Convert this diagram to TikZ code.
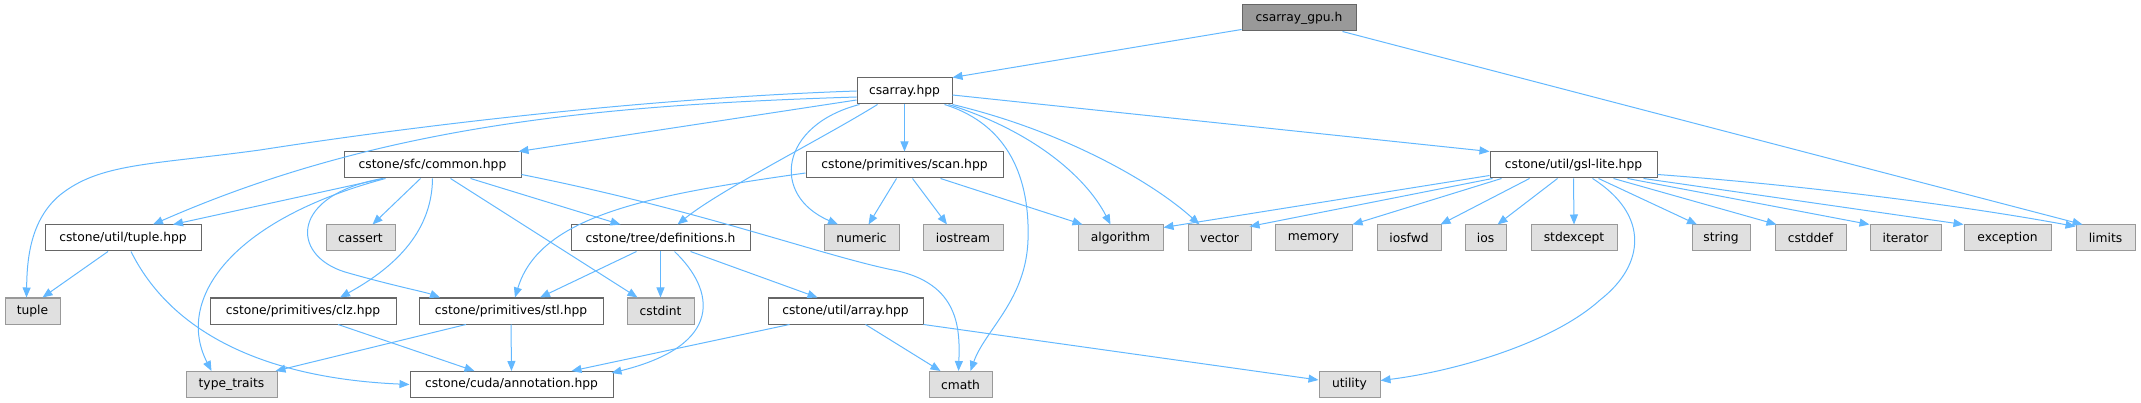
\documentclass[tikz,border=0pt]{standalone}
\usepackage{fontspec}
\setmainfont{DejaVu Sans}
\usetikzlibrary{arrows.meta}
\definecolor{edgeblue}{HTML}{63B8FF}
\definecolor{boxgray}{HTML}{E0E0E0}
\definecolor{bordergray}{HTML}{999999}
\definecolor{borderdark}{HTML}{666666}
\begin{document}
\begin{tikzpicture}[x=1pt,y=-1pt,
  box/.style={draw=borderdark, fill=white, line width=1pt, minimum height=26pt, inner sep=0pt, font=\fontsize{12.3}{14}\selectfont, text=black},
  sys/.style={box, draw=bordergray, fill=boxgray},
  cur/.style={box, fill=bordergray, draw=borderdark},
  edge/.style={draw=edgeblue, line width=1pt, -{Triangle[length=10pt,width=8pt]}},
]
\useasboundingbox (0,0) rectangle (2141,403);
% row 0
\node[cur, minimum width=114pt] (gpu) at (1299,18) {csarray\_gpu.h};
% row 1
\node[box, minimum width=95pt] (csarray) at (904.5,91) {csarray.hpp};
% row 2
\node[box, minimum width=177pt] (common) at (432.5,165) {cstone/sfc/common.hpp};
\node[box, minimum width=197pt] (scan) at (904.5,165) {cstone/primitives/scan.hpp};
\node[box, minimum width=167pt] (gsl) at (1573.5,165) {cstone/util/gsl-lite.hpp};
% row 3
\node[box, minimum width=156pt] (tuplehpp) at (123,238) {cstone/util/tuple.hpp};
\node[sys, minimum width=69pt] (cassert) at (360.5,238) {cassert};
\node[box, minimum width=179pt] (defs) at (660.5,238) {cstone/tree/definitions.h};
\node[sys, minimum width=75pt] (numeric) at (861.5,238) {numeric};
\node[sys, minimum width=80pt] (iostream) at (963,238) {iostream};
\node[sys, minimum width=85pt] (algorithm) at (1120.5,238) {algorithm};
\node[sys, minimum width=63pt] (vector) at (1219.5,238) {vector};
\node[sys, minimum width=77pt] (memory) at (1313.5,238) {memory};
\node[sys, minimum width=64pt] (iosfwd) at (1409,238) {iosfwd};
\node[sys, minimum width=41pt] (ios) at (1485.5,238) {ios};
\node[sys, minimum width=86pt] (stdexcept) at (1574,238) {stdexcept};
\node[sys, minimum width=58pt] (string) at (1721,238) {string};
\node[sys, minimum width=71pt] (cstddef) at (1810.5,238) {cstddef};
\node[sys, minimum width=71pt] (iterator) at (1905.5,238) {iterator};
\node[sys, minimum width=87pt] (exception) at (2007.5,238) {exception};
\node[sys, minimum width=59pt] (limits) at (2105.5,238) {limits};
% row 4
\node[sys, minimum width=55pt] (tuple) at (32.5,311) {tuple};
\node[box, minimum width=186pt] (clz) at (303,311) {cstone/primitives/clz.hpp};
\node[box, minimum width=184pt] (stl) at (511,311) {cstone/primitives/stl.hpp};
\node[sys, minimum width=67pt] (cstdint) at (660.5,311) {cstdint};
\node[box, minimum width=155pt] (array) at (845.5,311) {cstone/util/array.hpp};
% row 5
\node[sys, minimum width=91pt] (typetraits) at (231.5,384.5) {type\_traits};
\node[box, minimum width=203pt] (annot) at (511.5,384.5) {cstone/cuda/annotation.hpp};
\node[sys, minimum width=63pt] (cmath) at (960.5,384.5) {cmath};
\node[sys, minimum width=61pt] (utility) at (1349.5,384.5) {utility};

% gpu
\draw[edge] ([yshift=2pt]gpu.south west) -- (csarray.north east);
\draw[edge] ([xshift=-14pt]gpu.south east) -- ([xshift=7pt]limits.north west);
% csarray
\draw[edge] (csarray.west) .. controls (650,98) and (420,125) .. (260,150)
  .. controls (150,165) and (100,163) .. (60,195)
  .. controls (30,220) and (27,260) .. ([xshift=-6pt]tuple.north);
\draw[edge] ([yshift=-6pt]csarray.west) .. controls (600,105) and (380,125) .. ([xshift=30pt]tuplehpp.north);
\draw[edge] ([yshift=-9pt]csarray.west) -- ([xshift=-3pt]common.north east);
\draw[edge] ([xshift=-27pt]csarray.south) .. controls (820,140) and (720,190) .. ([xshift=17pt]defs.north);
\draw[edge] ([xshift=-45pt]csarray.south) .. controls (780,125) and (770,195) .. ([xshift=-23.5pt]numeric.north);
\draw[edge] (csarray.south) -- (scan.north);
\draw[edge] ([xshift=40pt]csarray.south) .. controls (1010,125) and (1030,180) .. (1028,240)
  .. controls (1026,300) and (985,330) .. ([xshift=10pt]cmath.north);
\draw[edge] ([xshift=44pt]csarray.south) .. controls (1030,130) and (1085,175) .. ([xshift=-10pt]algorithm.north);
\draw[edge] (csarray.south east) .. controls (1060,130) and (1150,180) .. ([xshift=-20pt]vector.north);
\draw[edge] ([yshift=-4pt]csarray.east) -- (gsl.north west);
% common
\draw[edge] ([xshift=-49pt]common.south) -- ([xshift=50pt]tuplehpp.north);
\draw[edge] ([xshift=-12pt]common.south) -- ([xshift=12pt]cassert.north);
\draw[edge] ([xshift=38pt]common.south) -- ([xshift=-40pt]defs.north);
\draw[edge] ([xshift=-50pt]common.south) .. controls (290,195) and (290,255) .. (345,272)
  .. controls (390,285) and (425,292) .. ([xshift=-71pt]stl.north);
\draw[edge] (common.south) .. controls (432,235) and (390,270) .. ([xshift=37pt]clz.north);
\draw[edge] ([xshift=18pt]common.south) -- ([xshift=-23pt]cstdint.north);
\draw[edge] ([xshift=-47pt]common.south) .. controls (230,220) and (175,300) .. ([xshift=-20pt]typetraits.north);
\draw[edge] ([yshift=4pt]common.south east) .. controls (700,210) and (820,255) .. (893,270)
  .. controls (960,283) and (960,330) .. ([xshift=-2pt]cmath.north);
% scan
\draw[edge] ([yshift=-8pt]scan.west) .. controls (650,195) and (540,215) .. ([xshift=4pt]stl.north);
\draw[edge] ([xshift=-8pt]scan.south) -- ([xshift=7pt]numeric.north);
\draw[edge] ([xshift=8pt]scan.south) -- ([xshift=-16pt]iostream.north);
\draw[edge] ([xshift=36pt]scan.south) -- ([xshift=-38pt]algorithm.north);
% definitions
\draw[edge] ([xshift=-24pt]defs.south) -- ([xshift=29pt]stl.north);
\draw[edge] (defs.south) -- (cstdint.north);
\draw[edge] ([xshift=14pt]defs.south) .. controls (715,290) and (725,345) .. ([xshift=-2pt,yshift=-2pt]annot.north east);
\draw[edge] ([xshift=30pt]defs.south) -- ([xshift=-28pt]array.north);
% tuple.hpp
\draw[edge] ([xshift=-15pt]tuplehpp.south) -- ([xshift=10pt]tuple.north);
\draw[edge] ([xshift=8pt]tuplehpp.south) .. controls (170,330) and (260,378) .. (annot.west);
% clz, stl
\draw[edge] ([xshift=35pt]clz.south) -- ([xshift=-37pt]annot.north);
\draw[edge] ([xshift=-45pt]stl.south) -- ([xshift=44pt]typetraits.north);
\draw[edge] (stl.south) -- (annot.north);
% array
\draw[edge] ([xshift=-56pt]array.south) -- ([xshift=60pt]annot.north);
\draw[edge] ([xshift=20pt]array.south) -- ([xshift=-20pt]cmath.north);
\draw[edge] (array.south east) -- ([yshift=4.5pt]utility.west);
% gsl-lite
\draw[edge] ([yshift=3pt]gsl.south west) -- ([yshift=-3pt]algorithm.north east);
\draw[edge] ([xshift=3pt]gsl.south west) -- ([xshift=-2pt,yshift=-2pt]vector.north east);
\draw[edge] ([xshift=12pt]gsl.south west) -- (memory.north east);
\draw[edge] ([xshift=40pt]gsl.south west) -- ([xshift=-1pt]iosfwd.north east);
\draw[edge] ([xshift=68pt]gsl.south west) -- ([xshift=12pt]ios.north);
\draw[edge] (gsl.south) -- (stdexcept.north);
\draw[edge] ([xshift=19pt]gsl.south) .. controls (1650,215) and (1645,265) .. (1600,300)
  .. controls (1550,345) and (1450,372) .. ([yshift=4pt]utility.east);
\draw[edge] ([xshift=25pt]gsl.south) -- ([xshift=-24pt]string.north);
\draw[edge] ([xshift=40pt]gsl.south) -- ([xshift=2pt]cstddef.north west);
\draw[edge] ([xshift=54pt]gsl.south) -- (iterator.north west);
\draw[edge] ([xshift=70pt]gsl.south) -- (exception.north west);
\draw[edge] ([yshift=4pt]gsl.south east) .. controls (1800,185) and (1960,205) .. ([yshift=-2pt]limits.north west);
\end{tikzpicture}
\end{document}
